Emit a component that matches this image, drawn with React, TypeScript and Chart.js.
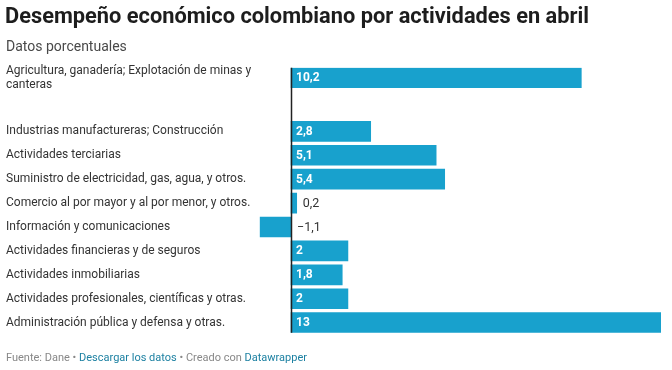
import React, { useEffect, useRef } from "react";
import { Chart, registerables } from "chart.js";

Chart.register(...registerables);

const TITLE = "Desempeño económico colombiano por actividades en abril";
const SUBTITLE = "Datos porcentuales";

const categories: (string | string[])[] = [
  ["Agricultura, ganadería; Explotación de minas y", "canteras"],
  "Industrias manufactureras; Construcción",
  "Actividades terciarias",
  "Suministro de electricidad, gas, agua, y otros.",
  "Comercio al por mayor y al por menor, y otros.",
  "Información y comunicaciones",
  "Actividades financieras y de seguros",
  "Actividades inmobiliarias",
  "Actividades profesionales, científicas y otras.",
  "Administración pública y defensa y otras.",
];

const values: number[] = [10.2, 2.8, 5.1, 5.4, 0.2, -1.1, 2, 1.8, 2, 13];

const footerParts: { text: string; color: string }[] = [
  { text: "Fuente: Dane", color: "#888888" },
  { text: " • ", color: "#888888" },
  { text: "Descargar los datos", color: "#1d81a2" },
  { text: " • Creado con ", color: "#888888" },
  { text: "Datawrapper", color: "#1d81a2" },
];

const BAR_COLOR = "#18a1cd";
const FONT = "Roboto, 'Noto Sans', sans-serif";
const WRAP_EXTRA = 1.24; // extra row space taken by a wrapped label

// row positions on the category (linear) axis
const rowPos: number[] = (() => {
  let p = 0;
  return categories.map((c) => {
    const cur = p;
    p += 1 + (Array.isArray(c) ? WRAP_EXTRA : 0);
    return cur;
  });
})();

const fmt = (v: number) => String(v).replace(".", ",").replace("-", "−");

const textPlugin = {
  id: "texts",
  beforeDraw(chart: any) {
    const ctx = chart.ctx;
    ctx.save();
    ctx.textBaseline = "alphabetic";
    ctx.textAlign = "left";
    ctx.fillStyle = "#1d1d1d";
    ctx.font = `bold 21.8px ${FONT}`;
    ctx.fillText(TITLE, 5, 23);
    ctx.fillStyle = "#494949";
    ctx.font = `14px ${FONT}`;
    ctx.fillText(SUBTITLE, 6, 51);
    ctx.font = `11px ${FONT}`;
    let x = 6;
    for (const part of footerParts) {
      ctx.fillStyle = part.color;
      ctx.fillText(part.text, x, 361);
      x += ctx.measureText(part.text).width;
    }
    ctx.restore();
  },
  afterDatasetsDraw(chart: any) {
    const ctx = chart.ctx;
    const xs = chart.scales.x;
    const area = chart.chartArea;
    const meta = chart.getDatasetMeta(0);
    ctx.save();
    ctx.textBaseline = "middle";
    ctx.textAlign = "left";
    meta.data.forEach((bar: any, i: number) => {
      const v = values[i];
      const label = fmt(v);
      const x0 = xs.getPixelForValue(0);
      const x1 = bar.x;
      const w = Math.abs(x1 - x0);
      ctx.font = `bold 12px ${FONT}`;
      const tw = ctx.measureText(label).width;
      if (v > 0 && w > tw + 12) {
        ctx.fillStyle = "#ffffff";
        ctx.fillText(label, x0 + 5, bar.y + 0.5);
      } else {
        ctx.font = `12.5px ${FONT}`;
        ctx.fillStyle = "#333333";
        ctx.fillText(label, Math.max(x0, x1) + 6, bar.y + 0.5);
      }
    });
    // zero line
    const zx = Math.round(xs.getPixelForValue(0)) + 0.5;
    ctx.strokeStyle = "#222222";
    ctx.lineWidth = 1.5;
    ctx.beginPath();
    ctx.moveTo(zx, area.top);
    ctx.lineTo(zx, area.bottom);
    ctx.stroke();
    ctx.restore();
  },
};

export default function App() {
  const ref = useRef<HTMLCanvasElement | null>(null);
  useEffect(() => {
    if (!ref.current) return;
    const chart = new Chart(ref.current, {
      type: "bar",
      data: {
        datasets: [
          {
            data: values.map((v, i) => ({ x: v, y: rowPos[i] })),
            backgroundColor: BAR_COLOR,
            borderWidth: 0,
            barThickness: 20,
          },
        ],
      },
      options: {
        indexAxis: "y",
        responsive: false,
        animation: false,
        layout: { padding: { top: 67.7, bottom: 37.3, left: 6, right: 11 } },
        plugins: {
          legend: { display: false },
          tooltip: { enabled: false },
          title: { display: false },
        },
        scales: {
          x: {
            type: "linear",
            min: -1.1,
            max: 13,
            display: false,
          },
          y: {
            type: "linear",
            reverse: true,
            offset: false,
            min: -0.42,
            max: rowPos[rowPos.length - 1] + 0.42,
            grid: { display: false, offset: false },
            border: { display: false },
            afterBuildTicks: (scale: any) => {
              scale.ticks = rowPos.map((v) => ({ value: v }));
            },
            afterFit: (scale: any) => {
              scale.width = 253.7;
            },
            ticks: {
              autoSkip: false,
              crossAlign: "far",
              padding: 0,
              color: "#333333",
              font: { family: FONT, size: 12, lineHeight: 1.2 },
              callback: (_v: any, i: number) => categories[i],
            },
          },
        },
      } as any,
      plugins: [textPlugin],
    });
    return () => chart.destroy();
  }, []);
  return (
    <div style={{ position: "absolute", left: 0, top: 0, width: 672, height: 370, background: "#fff" }}>
      <canvas ref={ref} width={672} height={370} style={{ display: "block" }} />
    </div>
  );
}
